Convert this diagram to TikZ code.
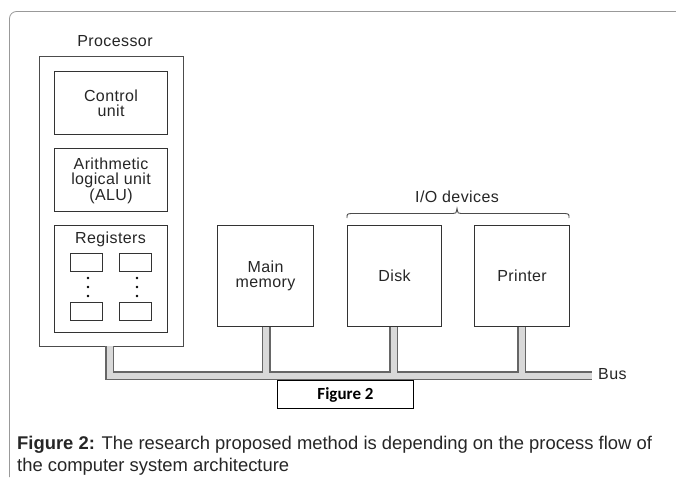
\documentclass[tikz,border=0pt]{standalone}
\usepackage{fontspec}
\setmainfont{Liberation Sans}
\newfontfamily\diagfont[LetterSpace=2.5]{Liberation Sans}
\newfontfamily\figfont{Carlito}
\begin{document}
\begin{tikzpicture}[x=1pt,y=-1pt,
  box/.style={draw=black!80, line width=1.1pt, fill=white, inner sep=0pt, anchor=north west},
  regbox/.style={draw=black!80, line width=1pt, inner sep=0pt, anchor=north west, minimum width=32pt, minimum height=18pt},
  lbl/.style={font=\diagfont\fontsize{16}{16}\selectfont, align=center, inner sep=0pt, text=black!85},
  pipeout/.style={draw=black!60, line width=9pt, line join=miter},
  pipein/.style={draw=black!15, line width=6pt, line join=miter},
  dot/.style={fill=black, circle, inner sep=0pt, minimum size=2.6pt}]
\useasboundingbox (0,0) rectangle (676,477);
\fill[white] (0,0) rectangle (676,477);
% outer frame
\draw[black!40, line width=0.8pt, rounded corners=7pt] (9.5,477) -- (9.5,11.5) -- (676,11.5);

% processor
\node[lbl] (proclbl) at (115,41) {Processor};
\node[box, draw=black!70, minimum width=144.5pt, minimum height=290pt] (proc) at (38.5,56) {};
\node[box, minimum width=113pt, minimum height=63pt] (cu) at (54,71) {};
\node[lbl] (cutxt) at (cu.center) {Control\\[-1pt]unit};
\node[box, minimum width=113pt, minimum height=63pt] (alu) at (54,148) {};
\node[lbl] (alutxt) at ([yshift=-1pt]alu.center) {Arithmetic\\[-1pt]logical unit\\[0pt](ALU)};
\node[box, minimum width=113pt, minimum height=107pt] (reg) at (54,225) {};
\node[lbl] (regtxt) at (110.5,239) {Registers};
\node[regbox] (r1) at (70,253) {};
\node[regbox] (r2) at (118.5,253) {};
\node[regbox] (r3) at (70,302) {};
\node[regbox] (r4) at (118.5,302) {};
\foreach \yy [count=\i] in {278,287,296} {
  \node[dot] (dl\i) at (88,\yy) {};
  \node[dot] (dr\i) at (137,\yy) {};
}

% memory and devices
\node[box, minimum width=96pt, minimum height=101pt] (mem) at (217,225) {};
\node[lbl] (memtxt) at (mem.center) {Main\\[-1pt]memory};
\node[box, minimum width=94pt, minimum height=101pt] (disk) at (347,225) {};
\node[lbl] (disktxt) at (disk.center) {Disk};
\node[box, minimum width=95pt, minimum height=101pt] (prn) at (474,225) {};
\node[lbl] (prntxt) at (prn.center) {Printer};

% brace
\node[lbl] (iotxt) at (457,197) {I/O devices};
\draw[black!70, line width=0.9pt]
  (347,218) .. controls (347,214) .. (351,213.5) -- (453,213.5)
  .. controls (456,213.5) .. (457,208.5) .. controls (458,213.5) .. (461,213.5)
  -- (565,213.5) .. controls (569,214) .. (569,218);

% bus
\coordinate (pstub) at (109.5,346);
\coordinate (busend) at (592,375.5);
\coordinate (pcorner) at (109.5,375.5);
\foreach \st in {pipeout,pipein}{
  \draw[\st] (pstub) -- (pcorner) -- (busend);
  \draw[\st] ([xshift=-48pt]mem.south east) -- ([xshift=-48pt]mem.south east |- busend);
  \draw[\st] ([xshift=46.5pt]disk.south west) -- ([xshift=46.5pt]disk.south west |- busend);
  \draw[\st] ([xshift=47.5pt]prn.south west) -- ([xshift=47.5pt]prn.south west |- busend);
}
\node[lbl, anchor=west] (bus) at (598,374) {Bus};

% figure box
\node[draw=black, line width=1pt, fill=white, minimum width=136pt, minimum height=28pt, anchor=north west, inner sep=0pt] (figbox) at (277,380) {};
\node[font=\figfont\bfseries\fontsize{17}{18}\selectfont, inner sep=0pt] (figtxt) at (figbox.center) {Figure 2};

% caption
\node[anchor=base west, inner sep=0pt, font=\fontsize{18.4}{20}\selectfont, text=black!85] (cap1) at (17,449) {\textbf{Figure 2:} The research proposed method is depending on the process flow of};
\node[anchor=base west, inner sep=0pt, font=\fontsize{18.4}{20}\selectfont, text=black!85] (cap2) at (17,471) {the computer system architecture};
\end{tikzpicture}
\end{document}
